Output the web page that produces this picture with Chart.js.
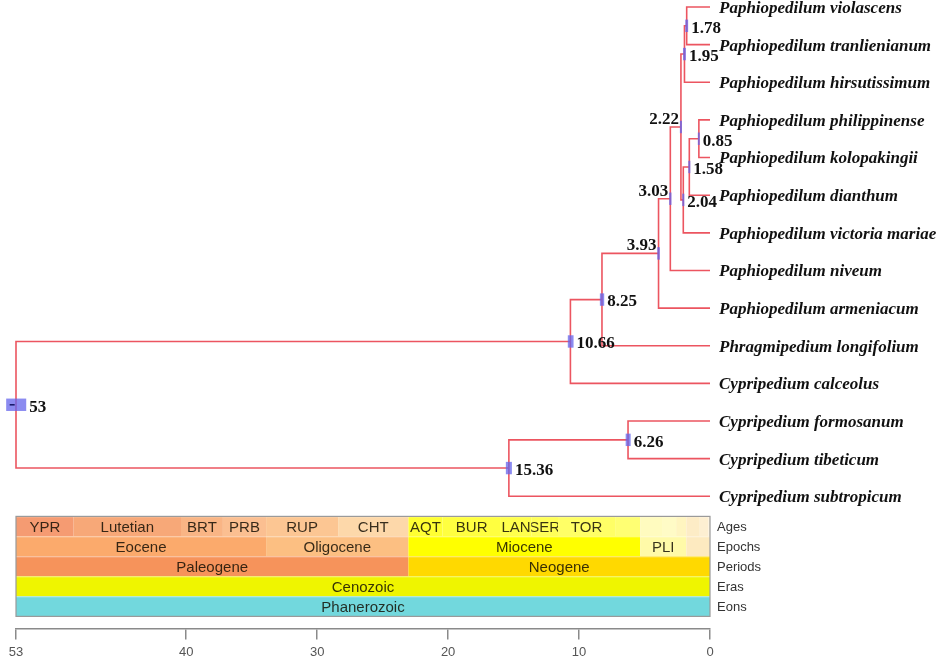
<!DOCTYPE html>
<html><head><meta charset="utf-8">
<script src="https://cdn.jsdelivr.net/npm/chart.js@4.4.1/dist/chart.umd.min.js"></script>
<style>html,body{margin:0;padding:0;background:#fff;} canvas{display:block;}</style>
</head><body>
<canvas id="c" width="941" height="662" style="width:941px;height:662px"></canvas>
<script>
// ---- tree data ----
const leafNames = [
  'Paphiopedilum violascens','Paphiopedilum tranlienianum','Paphiopedilum hirsutissimum',
  'Paphiopedilum philippinense','Paphiopedilum kolopakingii','Paphiopedilum dianthum',
  'Paphiopedilum victoria mariae','Paphiopedilum niveum','Paphiopedilum armeniacum',
  'Phragmipedium longifolium','Cypripedium calceolus','Cypripedium formosanum',
  'Cypripedium tibeticum','Cypripedium subtropicum'
];
const nodeAges   = [1.78, 1.95, 0.85, 1.58, 2.04, 2.22, 3.03, 3.93, 8.25, 10.66, 6.26, 15.36, 53];
const nodeLabels = ['1.78','1.95','0.85','1.58','2.04','2.22','3.03','3.93','8.25','10.66','6.26','15.36','53'];
const nodeKids   = [['L0','L1'],['N0','L2'],['L3','L4'],['N2','L5'],['N3','L6'],['N1','N4'],
                    ['N5','L7'],['N6','L8'],['N7','L9'],['N8','L10'],['L11','L12'],['N10','L13'],['N9','N11']];
const hpdLow  = [1.67, 1.84, 0.78, 1.50, 1.96, 2.14, 2.94, 3.83, 8.08, 10.42, 6.06, 15.13, 52.22];
const hpdHigh = [1.89, 2.06, 0.93, 1.66, 2.12, 2.30, 3.12, 4.03, 8.41, 10.86, 6.44, 15.59, 53.75];
const leftLabelNodes = ['2.22','3.03','3.93'];
const tickValues = [53, 40, 30, 20, 10, 0];

// ---- geologic time scale ----
const ageBounds = [53, 48.6, 40.4, 37.2, 33.9, 28.4, 23.03, 20.43, 15.97, 13.65, 11.608, 7.246, 5.332, 3.6, 2.588, 1.806, 0.781, 0.126, 0];
const ageLabels = ['YPR','Lutetian','BRT','PRB','RUP','CHT','AQT','BUR','LAN','SER','TOR','','','','','','',''];
const ageColors = ['#f59b72','#f7a878','#f9b585','#fbbf91','#fcc693','#fdd8aa','#ffff33','#ffff40','#ffff4d','#ffff59','#ffff66','#ffff73',
                   '#fffbbf','#fffbc6','#fff5c0','#fdecc6','#fdefd2','#fdf2da'];
const epochBounds = [53, 33.9, 23.03, 5.332, 1.806, 0.0117, 0];
const epochLabels = ['Eocene','Oligocene','Miocene','PLI','',''];
const epochColors = ['#fbaa6c','#fcbf82','#ffff00','#fffaa8','#fdeac0','#fdf0dc'];
const periodBounds = [53, 23.03, 0];
const periodLabels = ['Paleogene','Neogene'];
const periodColors = ['#f6935b','#ffd900'];
const eraBounds = [53, 0];
const eraLabels = ['Cenozoic'];
const eraColors = ['#eff500'];
const eonBounds = [53, 0];
const eonLabels = ['Phanerozoic'];
const eonColors = ['#72d8dd'];
const rowNames = ['Ages','Epochs','Periods','Eras','Eons'];

// ---- derived tree geometry (in data units) ----
const nodeY = [];
function refY(r){ return r[0]==='L' ? +r.slice(1) : nodeY[+r.slice(1)]; }
function refAge(r){ return r[0]==='L' ? 0 : nodeAges[+r.slice(1)]; }
nodeKids.forEach((k,i)=>{ nodeY[i] = (refY(k[0]) + refY(k[1]))/2; });

const RED = '#ec5560';
const datasets = nodeKids.map((k,i)=>({
  data: [
    {x: refAge(k[0]), y: refY(k[0])},
    {x: nodeAges[i], y: refY(k[0])},
    {x: nodeAges[i], y: refY(k[1])},
    {x: refAge(k[1]), y: refY(k[1])}
  ],
  showLine: true, borderColor: RED, borderWidth: 1.6, pointRadius: 0, tension: 0, clip: false,
  fill: false
}));

const SERIF = '"Liberation Serif","Times New Roman",serif';
const SANS = '"Liberation Sans",Arial,sans-serif';

const treePlugin = {
  id: 'tree',
  beforeDraw(chart){
    const c = chart.ctx; c.save(); c.fillStyle = '#fff'; c.fillRect(0,0,chart.width,chart.height); c.restore();
  },
  afterDatasetsDraw(chart){
    const c = chart.ctx, xs = chart.scales.x, ys = chart.scales.y, area = chart.chartArea;
    c.save();
    // HPD boxes
    nodeAges.forEach((a,i)=>{
      const x1 = xs.getPixelForValue(hpdHigh[i]), x2 = xs.getPixelForValue(hpdLow[i]);
      const y = ys.getPixelForValue(nodeY[i]);
      c.fillStyle = 'rgba(100,100,235,0.75)';
      c.fillRect(x1, y-6.2, x2-x1, 12.4);
    });
    // dark dash inside root box
    const ri = nodeAges.length-1;
    const rx = xs.getPixelForValue(hpdHigh[ri]), ry = ys.getPixelForValue(nodeY[ri]);
    c.strokeStyle = '#1a1a6a'; c.lineWidth = 1.6;
    c.beginPath(); c.moveTo(rx+3.5, ry); c.lineTo(rx+8.5, ry); c.stroke();

    // node labels
    c.font = 'bold 17px ' + SERIF; c.fillStyle = '#111'; c.textBaseline = 'middle';
    nodeAges.forEach((a,i)=>{
      const xn = xs.getPixelForValue(a), y = ys.getPixelForValue(nodeY[i]);
      if (leftLabelNodes.includes(nodeLabels[i])) {
        c.textAlign = 'right'; c.fillText(nodeLabels[i], xn-2, y-7.5);
      } else {
        const xr = xs.getPixelForValue(hpdLow[i]);
        c.textAlign = 'left'; c.fillText(nodeLabels[i], Math.max(xn, xr)+3, y+2.5);
      }
    });
    // leaf names
    c.font = 'italic bold 17px ' + SERIF; c.textAlign = 'left';
    const x0 = xs.getPixelForValue(0);
    leafNames.forEach((n,i)=>{ c.fillText(n, x0+9, ys.getPixelForValue(i)+1.5); });

    // geologic time scale
    const rows = [
      [ageBounds, ageLabels, ageColors],
      [epochBounds, epochLabels, epochColors],
      [periodBounds, periodLabels, periodColors],
      [eraBounds, eraLabels, eraColors],
      [eonBounds, eonLabels, eonColors]
    ];
    const rowH = 20, top = area.bottom - 112;
    rows.forEach((r,ri2)=>{
      const [b, l, col] = r; const yt = top + ri2*rowH;
      for (let j=0;j<l.length;j++){
        const xa = xs.getPixelForValue(b[j]), xb = xs.getPixelForValue(b[j+1]);
        c.fillStyle = col[j]; c.fillRect(xa, yt, xb-xa, rowH);
      }
      c.fillStyle = 'rgba(255,255,255,0.35)'; c.fillRect(xs.getPixelForValue(53), yt, xs.getPixelForValue(0)-xs.getPixelForValue(53), 1);
      for (let j=0;j<l.length;j++){
        if (!l[j]) continue;
        const xa = xs.getPixelForValue(b[j]), xb = xs.getPixelForValue(b[j+1]);
        c.save(); c.beginPath(); c.rect(xa, yt, xb-xa, rowH); c.clip();
        c.font = '15px ' + SANS; c.fillStyle = 'rgba(20,15,5,0.85)'; c.textAlign = 'center'; c.textBaseline = 'middle';
        c.fillText(l[j], (xa+xb)/2, yt + rowH/2 + 1);
        c.restore();
      }
      c.font = '13px ' + SANS; c.fillStyle = '#333'; c.textAlign = 'left'; c.textBaseline = 'middle';
      c.fillText(rowNames[ri2], xs.getPixelForValue(0)+7, yt + rowH/2 + 1);
    });
    c.strokeStyle = '#9a9a9a'; c.lineWidth = 1.2;
    const gl = xs.getPixelForValue(53), gr = xs.getPixelForValue(0);
    c.strokeRect(gl, top, gr-gl, rowH*5);
    c.restore();
  }
};

new Chart(document.getElementById('c'), {
  type: 'scatter',
  data: { datasets },
  options: {
    responsive: false, animation: false, devicePixelRatio: 1,
    layout: { padding: { left: 16, right: 231, top: 0, bottom: -3 } },
    plugins: { legend: { display: false }, tooltip: { enabled: false } },
    scales: {
      x: {
        type: 'linear', reverse: true, min: 0, max: 53,
        afterBuildTicks: s => { s.ticks = tickValues.map(v => ({ value: v })); },
        grid: { display: true, drawOnChartArea: false, drawTicks: true, tickLength: 11, color: '#8a8a8a', lineWidth: 1.5 },
        border: { display: true, color: '#8a8a8a', width: 1.5 },
        ticks: { color: '#555', font: { family: SANS, size: 13 }, padding: 5, maxRotation: 0, autoSkip: false }
      },
      y: { type: 'linear', display: false, reverse: true, min: -0.186, max: 16.51 }
    }
  },
  plugins: [treePlugin]
});
</script>
</body></html>
